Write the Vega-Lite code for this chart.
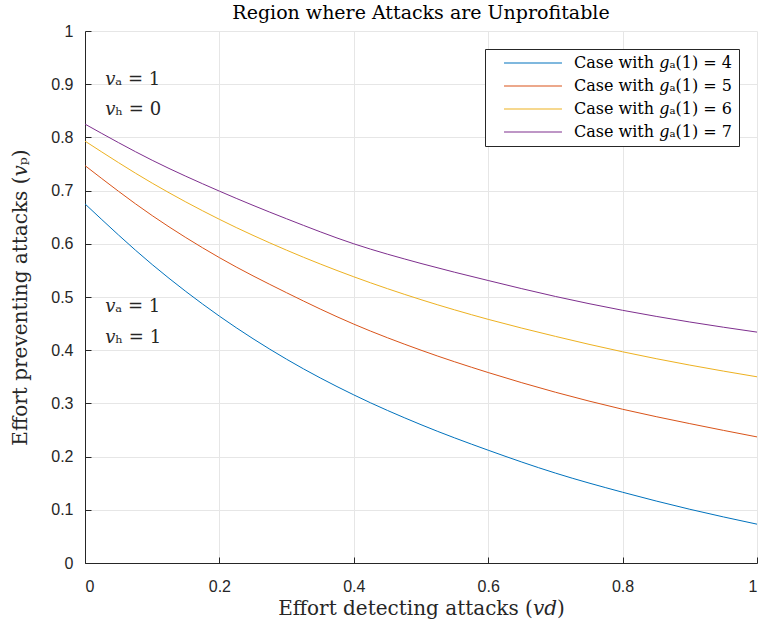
{
  "$schema": "https://vega.github.io/schema/vega-lite/v6.json",
  "width": 672,
  "height": 532,
  "autosize": {"type": "none"},
  "padding": {"left": 85, "top": 31, "right": 3, "bottom": 67},
  "background": "white",
  "title": {"text": "Region where Attacks are Unprofitable", "font": "DejaVu Serif", "fontSize": 19, "fontWeight": "normal", "color": "#000000", "anchor": "middle", "offset": 0},
  "config": {
    "view": {"stroke": null},
    "axis": {"labelFont": "Liberation Sans", "labelFontSize": 16, "labelColor": "#262626", "titleFont": "DejaVu Serif", "titleFontSize": 20, "titleFontWeight": "normal", "titleColor": "#262626", "domainColor": "#262626", "tickColor": "#262626", "gridColor": "#e6e6e6", "gridWidth": 1, "tickSize": -6, "domainWidth": 1}
  },
  "datasets": {
    "curves": [
      {"vd": 0.0, "vp": 0.675, "series": "Case with 𝑔ₐ(1) = 4"},
      {"vd": 0.1, "vp": 0.561, "series": "Case with 𝑔ₐ(1) = 4"},
      {"vd": 0.2, "vp": 0.464, "series": "Case with 𝑔ₐ(1) = 4"},
      {"vd": 0.3, "vp": 0.383, "series": "Case with 𝑔ₐ(1) = 4"},
      {"vd": 0.4, "vp": 0.316, "series": "Case with 𝑔ₐ(1) = 4"},
      {"vd": 0.5, "vp": 0.260, "series": "Case with 𝑔ₐ(1) = 4"},
      {"vd": 0.6, "vp": 0.212, "series": "Case with 𝑔ₐ(1) = 4"},
      {"vd": 0.7, "vp": 0.169, "series": "Case with 𝑔ₐ(1) = 4"},
      {"vd": 0.8, "vp": 0.133, "series": "Case with 𝑔ₐ(1) = 4"},
      {"vd": 0.9, "vp": 0.101, "series": "Case with 𝑔ₐ(1) = 4"},
      {"vd": 1.0, "vp": 0.073, "series": "Case with 𝑔ₐ(1) = 4"},
      {"vd": 0.0, "vp": 0.747, "series": "Case with 𝑔ₐ(1) = 5"},
      {"vd": 0.1, "vp": 0.653, "series": "Case with 𝑔ₐ(1) = 5"},
      {"vd": 0.2, "vp": 0.574, "series": "Case with 𝑔ₐ(1) = 5"},
      {"vd": 0.3, "vp": 0.508, "series": "Case with 𝑔ₐ(1) = 5"},
      {"vd": 0.4, "vp": 0.449, "series": "Case with 𝑔ₐ(1) = 5"},
      {"vd": 0.5, "vp": 0.400, "series": "Case with 𝑔ₐ(1) = 5"},
      {"vd": 0.6, "vp": 0.358, "series": "Case with 𝑔ₐ(1) = 5"},
      {"vd": 0.7, "vp": 0.321, "series": "Case with 𝑔ₐ(1) = 5"},
      {"vd": 0.8, "vp": 0.289, "series": "Case with 𝑔ₐ(1) = 5"},
      {"vd": 0.9, "vp": 0.262, "series": "Case with 𝑔ₐ(1) = 5"},
      {"vd": 1.0, "vp": 0.237, "series": "Case with 𝑔ₐ(1) = 5"},
      {"vd": 0.0, "vp": 0.793, "series": "Case with 𝑔ₐ(1) = 6"},
      {"vd": 0.1, "vp": 0.714, "series": "Case with 𝑔ₐ(1) = 6"},
      {"vd": 0.2, "vp": 0.646, "series": "Case with 𝑔ₐ(1) = 6"},
      {"vd": 0.3, "vp": 0.588, "series": "Case with 𝑔ₐ(1) = 6"},
      {"vd": 0.4, "vp": 0.538, "series": "Case with 𝑔ₐ(1) = 6"},
      {"vd": 0.5, "vp": 0.495, "series": "Case with 𝑔ₐ(1) = 6"},
      {"vd": 0.6, "vp": 0.458, "series": "Case with 𝑔ₐ(1) = 6"},
      {"vd": 0.7, "vp": 0.426, "series": "Case with 𝑔ₐ(1) = 6"},
      {"vd": 0.8, "vp": 0.397, "series": "Case with 𝑔ₐ(1) = 6"},
      {"vd": 0.9, "vp": 0.372, "series": "Case with 𝑔ₐ(1) = 6"},
      {"vd": 1.0, "vp": 0.350, "series": "Case with 𝑔ₐ(1) = 6"},
      {"vd": 0.0, "vp": 0.825, "series": "Case with 𝑔ₐ(1) = 7"},
      {"vd": 0.1, "vp": 0.757, "series": "Case with 𝑔ₐ(1) = 7"},
      {"vd": 0.2, "vp": 0.699, "series": "Case with 𝑔ₐ(1) = 7"},
      {"vd": 0.3, "vp": 0.647, "series": "Case with 𝑔ₐ(1) = 7"},
      {"vd": 0.4, "vp": 0.600, "series": "Case with 𝑔ₐ(1) = 7"},
      {"vd": 0.5, "vp": 0.563, "series": "Case with 𝑔ₐ(1) = 7"},
      {"vd": 0.6, "vp": 0.531, "series": "Case with 𝑔ₐ(1) = 7"},
      {"vd": 0.7, "vp": 0.501, "series": "Case with 𝑔ₐ(1) = 7"},
      {"vd": 0.8, "vp": 0.475, "series": "Case with 𝑔ₐ(1) = 7"},
      {"vd": 0.9, "vp": 0.453, "series": "Case with 𝑔ₐ(1) = 7"},
      {"vd": 1.0, "vp": 0.434, "series": "Case with 𝑔ₐ(1) = 7"}
    ],
    "notes": [
      {"vd": 0.03, "vp": 0.908, "label": "𝑣ₐ = 1"},
      {"vd": 0.03, "vp": 0.852, "label": "𝑣ₕ = 0"},
      {"vd": 0.03, "vp": 0.481, "label": "𝑣ₐ = 1"},
      {"vd": 0.03, "vp": 0.423, "label": "𝑣ₕ = 1"}
    ]
  },
  "layer": [
    {
      "data": {"name": "curves"},
      "mark": {"type": "line", "strokeWidth": 1, "interpolate": "monotone"},
      "encoding": {
        "x": {"field": "vd", "type": "quantitative", "scale": {"domain": [0, 1], "nice": false}, "axis": {"title": "Effort detecting attacks (𝑣𝑑)", "values": [0, 0.2, 0.4, 0.6, 0.8, 1], "format": "~g", "labelPadding": 21, "titlePadding": 4}},
        "y": {"field": "vp", "type": "quantitative", "scale": {"domain": [0, 1], "nice": false}, "axis": {"title": "Effort preventing attacks (𝑣ₚ)", "values": [0, 0.1, 0.2, 0.3, 0.4, 0.5, 0.6, 0.7, 0.8, 0.9, 1], "format": "~g", "labelPadding": 18, "titlePadding": 20}},
        "color": {"field": "series", "type": "nominal", "scale": {"range": ["#0072BD", "#D95319", "#EDB120", "#7E2F8E"]}, "legend": {"title": null, "orient": "top-right", "offset": 18, "labelFont": "DejaVu Serif", "labelFontSize": 16, "labelColor": "#000000", "symbolType": "M-4,0H4", "symbolSize": 210, "symbolStrokeWidth": 1.2, "symbolOffset": 34, "labelOffset": 33, "strokeColor": "#262626", "fillColor": "white", "padding": 6, "rowPadding": 7}}
      }
    },
    {
      "data": {"name": "notes"},
      "mark": {"type": "text", "align": "left", "baseline": "middle", "font": "DejaVu Serif", "fontSize": 18, "color": "#262626"},
      "encoding": {
        "x": {"field": "vd", "type": "quantitative"},
        "y": {"field": "vp", "type": "quantitative"},
        "text": {"field": "label"}
      }
    }
  ]
}
